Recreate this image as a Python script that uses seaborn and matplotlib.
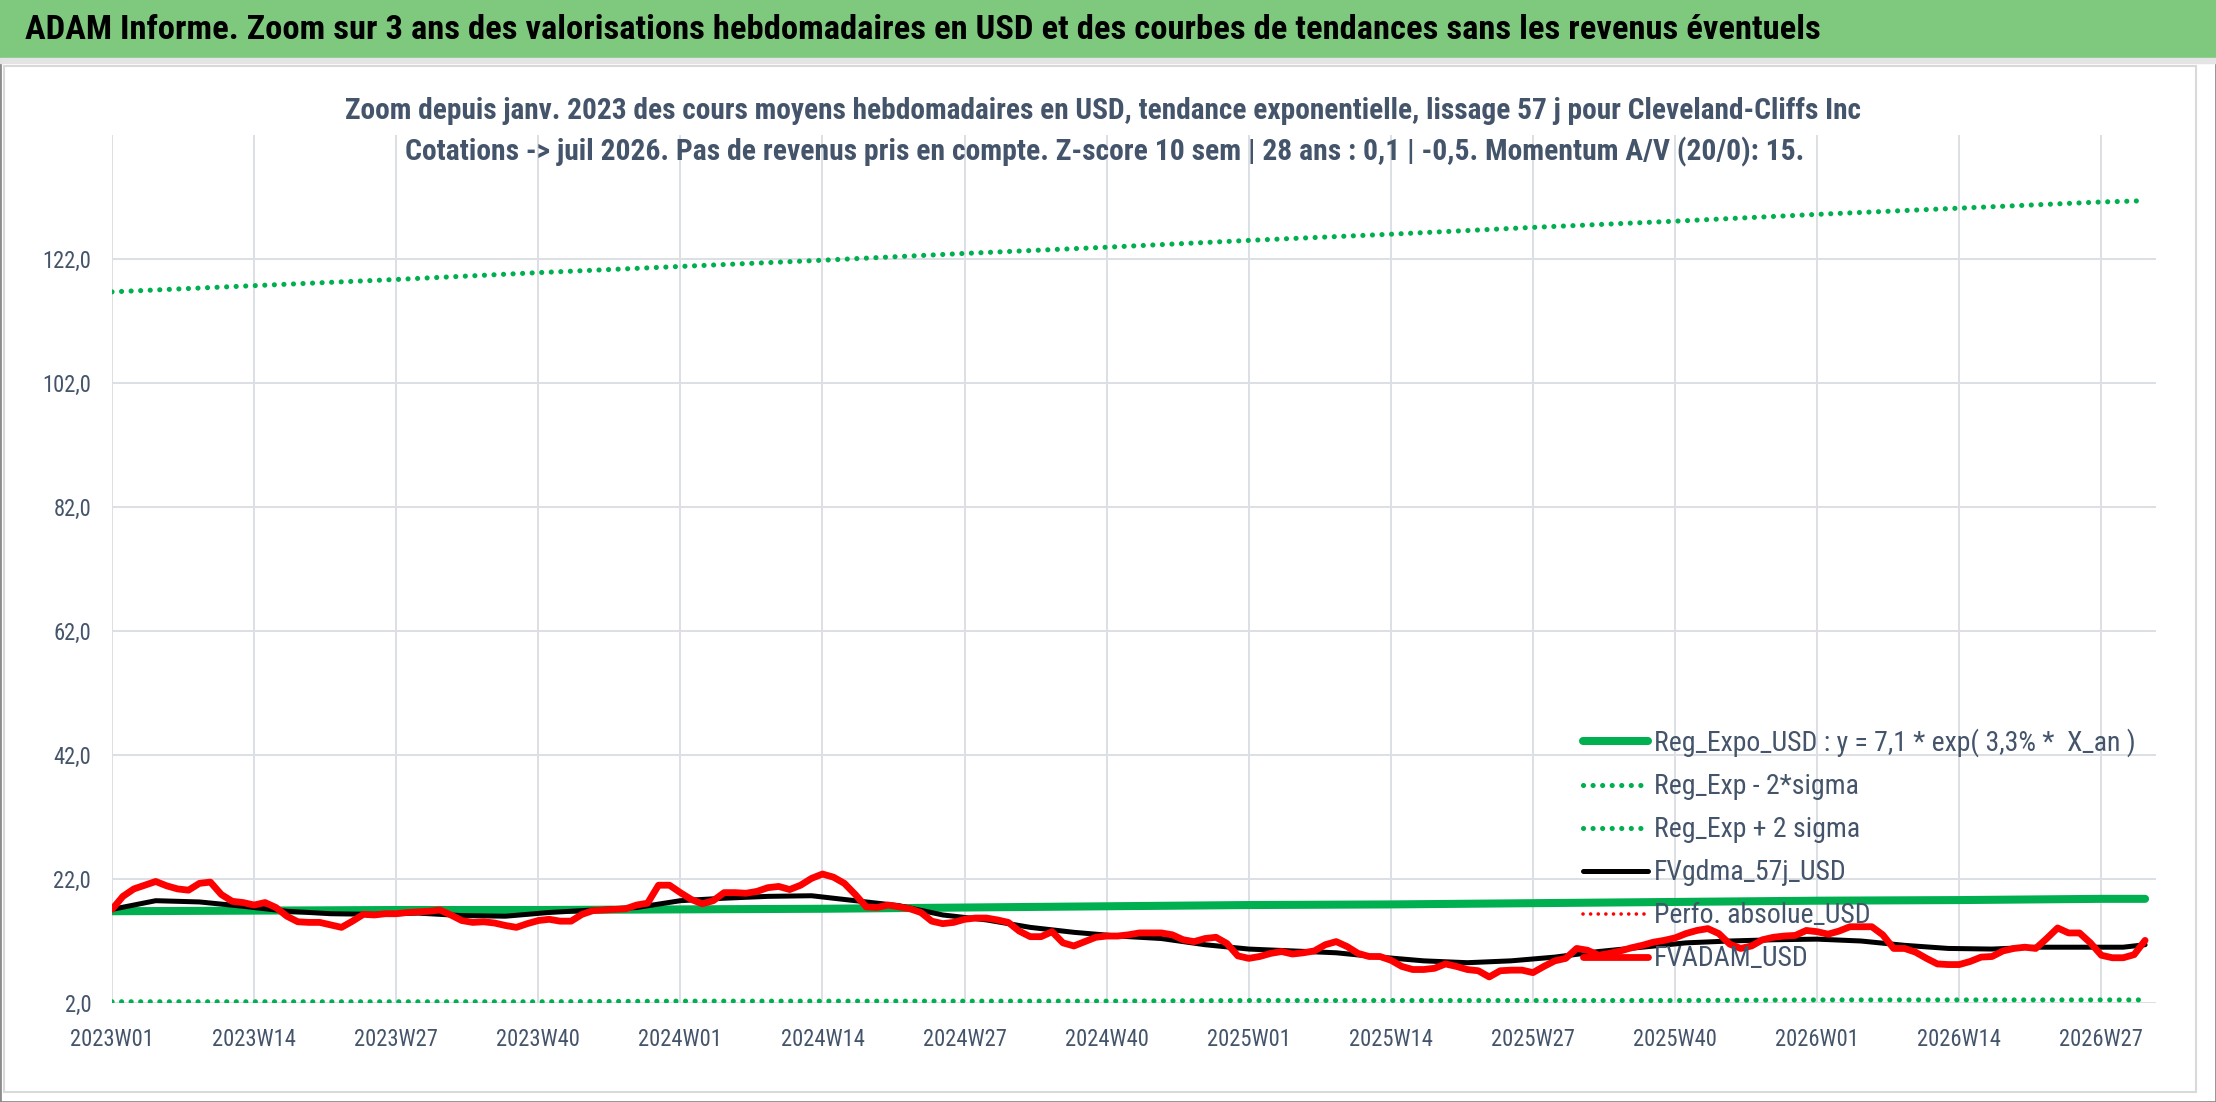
import numpy as np
import pandas as pd
import matplotlib.pyplot as plt
import seaborn as sns
from matplotlib.patches import Rectangle
import warnings; warnings.filterwarnings('ignore')
import logging; logging.getLogger('matplotlib.font_manager').setLevel(logging.ERROR)

# weekly values 2023W01 -> 2026W31
fvadam_usd = [
    17.1, 19.2, 20.4, 21.0, 21.6, 20.9, 20.4, 20.2, 21.3, 21.5,
    19.5, 18.4, 18.2, 17.8, 18.2, 17.4, 16.0, 15.1, 15.0, 15.0,
    14.6, 14.2, 15.2, 16.3, 16.2, 16.4, 16.4, 16.6, 16.7, 16.8,
    17.0, 16.2, 15.3, 15.0, 15.1, 14.9, 14.5, 14.2, 14.8, 15.3,
    15.5, 15.2, 15.2, 16.3, 16.9, 17.0, 17.1, 17.2, 17.8, 18.1,
    21.0, 21.0, 19.8, 18.7, 18.0, 18.5, 19.8, 19.8, 19.7, 20.0,
    20.6, 20.8, 20.3, 21.0, 22.1, 22.8, 22.3, 21.3, 19.5, 17.5,
    17.4, 17.8, 17.5, 17.2, 16.6, 15.2, 14.8, 15.0, 15.5, 15.7,
    15.7, 15.4, 15.0, 13.6, 12.7, 12.7, 13.5, 11.7, 11.2, 11.9,
    12.6, 12.8, 12.8, 13.0, 13.3, 13.3, 13.3, 13.0, 12.2, 11.9,
    12.4, 12.6, 11.6, 9.6, 9.2, 9.5, 10.0, 10.3, 9.9, 10.1,
    10.4, 11.4, 11.9, 11.1, 10.0, 9.5, 9.5, 8.9, 7.9, 7.4,
    7.4, 7.6, 8.3, 7.9, 7.4, 7.2, 6.2, 7.2, 7.3, 7.3,
    6.9, 7.9, 8.8, 9.2, 10.8, 10.5, 9.7, 10.0, 10.4, 10.9,
    11.3, 11.8, 12.1, 12.5, 13.2, 13.7, 14.0, 13.2, 11.5, 10.8,
    11.2, 12.2, 12.6, 12.8, 12.9, 13.7, 13.5, 13.1, 13.6, 14.3,
    14.3, 14.3, 13.0, 10.8, 10.8, 10.2, 9.2, 8.3, 8.2, 8.2,
    8.7, 9.4, 9.5, 10.4, 10.8, 11.0, 10.8, 12.4, 14.1, 13.3,
    13.3, 11.7, 9.7, 9.3, 9.3, 9.8, 12.1,
]
weeks = list(range(len(fvadam_usd)))

# smoothed 57 day curve, read every 4 weeks
gdma_weeks = list(range(0, 185, 4)) + [186]
fvgdma_57j = [
    17.1, 18.5, 18.3, 17.6, 16.8, 16.4, 16.3, 16.5, 16.1, 16.0,
    16.6, 17.0, 17.4, 18.5, 18.9, 19.2, 19.3, 18.5, 17.7, 16.2,
    15.4, 14.2, 13.4, 12.8, 12.4, 11.4, 10.7, 10.4, 10.1, 9.4,
    8.8, 8.5, 8.8, 9.4, 10.3, 11.0, 11.7, 12.0, 12.2, 12.3,
    12.0, 11.3, 10.8, 10.7, 11.0, 11.0, 11.0, 11.4,
]

# trend lines, read at each labelled week
trend_weeks = list(range(0, 183, 13)) + [186]
reg_expo = [16.8, 16.9, 17.0, 17.0, 17.1, 17.2, 17.4, 17.6,
            17.8, 17.9, 18.1, 18.3, 18.5, 18.6, 18.8, 18.8]
reg_minus = [2.2, 2.2, 2.2, 2.2, 2.3, 2.3, 2.3, 2.3,
             2.4, 2.4, 2.4, 2.4, 2.5, 2.5, 2.5, 2.5]
reg_plus = [116.7, 117.7, 118.7, 119.8, 120.8, 121.8, 122.9, 123.9,
            125.0, 126.0, 127.1, 128.1, 129.2, 130.2, 131.2, 131.4]

tick_weeks = list(range(0, 183, 13))
tick_labels = ["2023W01", "2023W14", "2023W27", "2023W40", "2024W01", "2024W14",
               "2024W27", "2024W40", "2025W01", "2025W14", "2025W27", "2025W40",
               "2026W01", "2026W14", "2026W27"]
y_ticks = [2, 22, 42, 62, 82, 102, 122]

title = ("ADAM Informe. Zoom sur 3 ans des valorisations hebdomadaires en USD "
         "et des courbes de tendances sans les revenus éventuels")
sub1 = ("Zoom depuis janv. 2023 des cours moyens hebdomadaires en USD, "
        "tendance exponentielle, lissage 57 j pour Cleveland-Cliffs Inc")
sub2 = ("Cotations -> juil 2026. Pas de revenus pris en compte. "
        "Z-score 10 sem | 28 ans : 0,1 | -0,5. Momentum A/V (20/0): 15.")
labels = ["Reg_Expo_USD : y = 7,1 * exp( 3,3% *  X_an )", "Reg_Exp - 2*sigma",
          "Reg_Exp + 2 sigma", "FVgdma_57j_USD", "Perfo. absolue_USD", "FVADAM_USD"]

sns.set_style("white")
plt.rcParams['font.family'] = ['Liberation Sans Narrow', 'Noto Sans Condensed',
                               'Roboto Condensed', 'Noto Sans', 'DejaVu Sans']
plt.rcParams['font.stretch'] = 'condensed'
TXT = '#44546A'
GREEN = '#00B050'

W, H = 2216, 1102
fig = plt.figure(figsize=(W / 100, H / 100), dpi=100)
r = fig.canvas.get_renderer()


def text_box(s, fs, weight='normal'):
    t = fig.text(0, 0, s, fontsize=fs, weight=weight)
    bb = t.get_window_extent(r)
    t.remove()
    return bb.width, bb.height


# frame, banner
fig.patches.append(Rectangle((0, 0), 1, 1, transform=fig.transFigure, fill=False,
                             edgecolor='#8C8C8C', lw=2))
fig.patches.append(Rectangle((4 / W, 1 - 1092 / H), 2192 / W, 1026 / H,
                             transform=fig.transFigure, fill=False,
                             edgecolor='#D9D9D9', lw=1.5))
fig.patches.append(Rectangle((0, 1 - 58 / H), 1, 58 / H, transform=fig.transFigure,
                             color='#7FC97F'))
fig.patches.append(Rectangle((0, 1 - 63 / H), 1, 5 / H, transform=fig.transFigure,
                             color='#E4E4E4'))

ax = fig.add_axes([112 / W, 1 - 1003 / H, (2156 - 112) / W, (1003 - 135) / H])

lw_dot = 3.7
dots = (0, (0.01, 1.85))
sns.lineplot(x=trend_weeks, y=reg_expo, ax=ax, color=GREEN, lw=5.8,
             solid_capstyle='round', label=labels[0])
sns.lineplot(x=trend_weeks, y=reg_minus, ax=ax, color=GREEN, lw=lw_dot,
             linestyle=dots, dash_capstyle='round', label=labels[1])
sns.lineplot(x=trend_weeks, y=reg_plus, ax=ax, color=GREEN, lw=lw_dot,
             linestyle=dots, dash_capstyle='round', label=labels[2])
sns.lineplot(x=gdma_weeks, y=fvgdma_57j, ax=ax, color='black', lw=3.6,
             solid_capstyle='round', label=labels[3])
ax.plot([], [], color='#FF0000', lw=2.6, linestyle=(0, (0.01, 2.1)),
        dash_capstyle='round', label=labels[4])
sns.lineplot(x=weeks, y=fvadam_usd, ax=ax, color='#FF0000', lw=4.9,
             solid_capstyle='round', solid_joinstyle='round', label=labels[5])

# tick font sized so that a week label is as wide as in the reference
fs_tick = 17 * 84 / text_box("2023W01", 17)[0]

ax.set_xlim(0, 187)
ax.set_ylim(2, 142)
ax.set_xticks(tick_weeks)
ax.set_xticklabels(tick_labels)
ax.set_yticks(y_ticks)
ax.set_yticklabels([f"{v:.1f}".replace('.', ',') for v in y_ticks])
ax.tick_params(axis='both', length=0, labelsize=fs_tick, labelcolor=TXT)
ax.tick_params(axis='y', pad=15)
ax.tick_params(axis='x', pad=18)
ax.grid(True, color='#DCDFE4', lw=1.4)
ax.set_axisbelow(True)
for s in ax.spines.values():
    s.set_visible(False)
ax.set_xlabel('')
ax.set_ylabel('')

# legend: first label ~480 px wide, rows 43 px apart, handles 65 px long
fs_leg = 19 * 480 / text_box(labels[0], 19)[0]
fs_px = fs_leg * 100 / 72
row_h = text_box("FVgdma_57j_USD", fs_leg)[1]
leg = ax.legend(loc='upper left', bbox_to_anchor=(1583 / W, 1 - (742 - row_h / 2) / H),
                bbox_transform=fig.transFigure, frameon=False, fontsize=fs_leg,
                labelcolor=TXT, handlelength=65 / fs_px, handletextpad=6 / fs_px,
                labelspacing=(43 - row_h) / fs_px, borderpad=0, borderaxespad=0)

t0 = fig.text(25 / W, 1 - 30 / H, title, ha='left', va='center',
              weight='bold', color='black', fontsize=24)
t1 = fig.text(1103 / W, 1 - 111 / H, sub1, ha='center', va='center',
              weight='bold', color=TXT, fontsize=18)
t2 = fig.text(1105 / W, 1 - 152 / H, sub2, ha='center', va='center',
              weight='bold', color=TXT, fontsize=18)

# scale the header texts to the widths they take in the reference
for t, width in [(t0, 1793), (t1, 1519), (t2, 1397)]:
    t.set_fontsize(t.get_fontsize() * width / t.get_window_extent(r).width)

fig.savefig("out.png", dpi=100)
